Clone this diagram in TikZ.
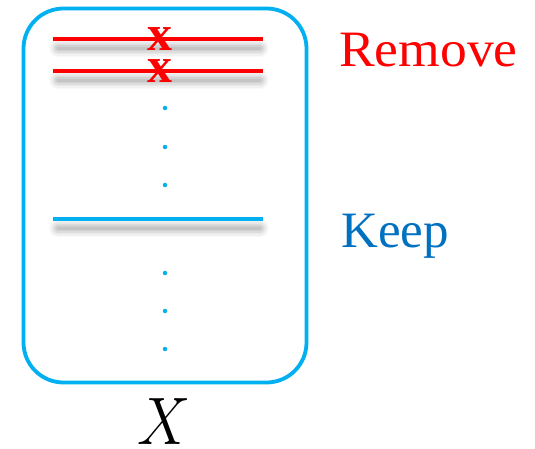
\documentclass[tikz,border=0pt]{standalone}
\usepackage{fontspec}
\newfontfamily\serifx{Liberation Serif}
\definecolor{boxblue}{HTML}{00B0F0}
\definecolor{keepblue}{HTML}{0070C0}
\definecolor{remred}{HTML}{FF0000}
\tikzset{
  framebox/.style={draw=boxblue, line width=3.8pt, rounded corners=40pt, minimum width=283pt, minimum height=374pt, inner sep=0pt},
  rowline/.style={line width=3.8pt},
  shadowline/.style={black, line cap=round},
  vdot/.style={circle, fill=boxblue, inner sep=0pt, minimum size=4.5pt},
  crossmark/.style={text=remred, inner sep=0pt, anchor=base, font=\serifx\bfseries\fontsize{50}{60}\selectfont},
  sidelabel/.style={inner sep=0pt, anchor=base west, font=\serifx\fontsize{51}{60}\selectfont},
}
\newcommand{\rowshadow}[1]{%
  \foreach \w/\o in {18/0.025,15/0.03,12/0.035,9/0.045,6/0.05,3/0.06}{
    \draw[shadowline, line width=\w pt, opacity=\o] (58,#1+9) -- (260,#1+9);
  }}
\begin{document}
\begin{tikzpicture}[x=1pt,y=-1pt]
\useasboundingbox (0,0) rectangle (535,448);
\fill[white] (0,0) rectangle (535,448);
% shadows
\rowshadow{39}
\rowshadow{71}
\rowshadow{219}
% box
\node[framebox] (box) at (165,195.5) {};
% row lines
\coordinate (r1a) at (53,39); \coordinate (r1b) at (263,39);
\coordinate (r2a) at (53,71); \coordinate (r2b) at (263,71);
\coordinate (k1a) at (53,219); \coordinate (k1b) at (263,219);
\draw[rowline, remred] (r1a) -- (r1b);
\draw[rowline, remred] (r2a) -- (r2b);
\draw[rowline, boxblue] (k1a) -- (k1b);
% crosses
\node[crossmark] (x1) at (160,50) {x};
\node[crossmark] (x2) at (160,82) {x};
% dots
\node[vdot] (d1) at (165,108) {};
\node[vdot] (d2) at (165,147) {};
\node[vdot] (d3) at (165,185) {};
\node[vdot] (d4) at (165,273) {};
\node[vdot] (d5) at (165,311) {};
\node[vdot] (d6) at (165,349) {};
% labels
\node[sidelabel, text=remred, xscale=1.05] (remove) at (339,66) {Remove};
\node[sidelabel, text=keepblue] (keep) at (341,247) {Keep};
\node[inner sep=0pt, anchor=base, font=\Huge, yscale=2.7, xscale=2.4] (xlab) at (164,444) {$X$};
\end{tikzpicture}
\end{document}
